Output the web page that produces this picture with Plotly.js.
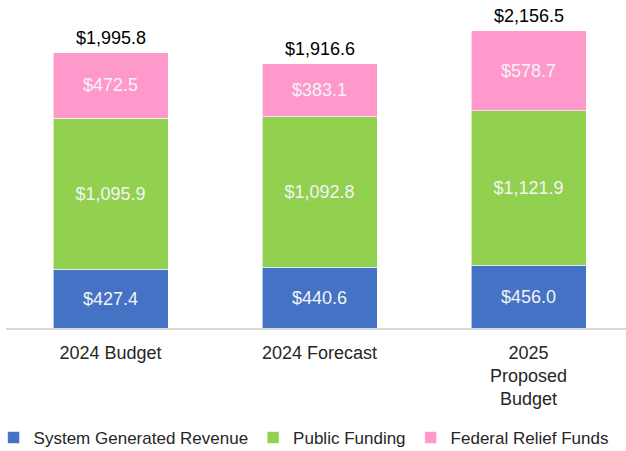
<!DOCTYPE html>
<html><head><meta charset="utf-8">
<script src="https://cdn.plot.ly/plotly-3.0.1.min.js"></script>
<style>html,body{margin:0;padding:0;background:#fff}</style>
</head><body><div id="chart" style="width:626px;height:451px"></div>
<script>
const categories = ["2024 Budget", "2024 Forecast", "2025 Proposed Budget"];
const tickLabels = ["2024 Budget", "2024 Forecast", "2025<br>Proposed<br>Budget"];
const systemRevenue = [427.4, 440.6, 456.0];
const publicFunding = [1095.9, 1092.8, 1121.9];
const federalRelief = [472.5, 383.1, 578.7];
const totals = [1995.8, 1916.6, 2156.5];

const fmt = v => "$" + v.toLocaleString("en-US", {minimumFractionDigits: 1, maximumFractionDigits: 1});
const FONT = "Liberation Sans, Arial, sans-serif";

function series(name, vals, color) {
  return {
    type: "bar", name: name, x: [0, 1, 2], y: vals,
    marker: {color: color, line: {color: "rgba(255,255,255,0.6)", width: 1}},
    text: vals.map(fmt), textposition: "inside", insidetextanchor: "middle",
    textfont: {family: FONT, size: 18, color: "#f4f4f4"},
    width: 0.55, hoverinfo: "skip", cliponaxis: false
  };
}

const data = [
  series("System Generated Revenue", systemRevenue, "#4472C4"),
  series("Public Funding", publicFunding, "#92D050"),
  series("Federal Relief Funds", federalRelief, "#FF99CC")
];

const annotations = totals.map((t, i) => ({
  x: i, y: systemRevenue[i] + publicFunding[i] + federalRelief[i],
  xref: "x", yref: "y", text: fmt(t), showarrow: false,
  yanchor: "bottom", yshift: 3,
  font: {family: FONT, size: 18, color: "#000"}
}));

const layout = {
  width: 626, height: 451,
  margin: {l: 6, r: 0, t: 11, b: 123, autoexpand: false},
  barmode: "stack",
  paper_bgcolor: "#fff", plot_bgcolor: "#fff",
  font: {family: FONT, size: 18, color: "#262626"},
  xaxis: {
    range: [-0.5, 2.466], tickmode: "array", tickvals: [0, 1, 2], ticktext: tickLabels,
    showgrid: false, zeroline: false, showline: true, linecolor: "#d9d9d9", linewidth: 2,
    ticks: "", automargin: false, ticklabelstandoff: 7,
    tickfont: {family: FONT, size: 18, color: "#262626"}
  },
  yaxis: {range: [0, 2300], visible: false, showgrid: false, zeroline: false, automargin: false},
  showlegend: true,
  legend: {
    orientation: "h", x: -0.02, xanchor: "left", y: -0.347, yanchor: "middle",
    font: {family: FONT, size: 17, color: "#262626"},
    itemwidth: 30, traceorder: "normal", tracegroupgap: 0
  },
  annotations: annotations
};

Plotly.newPlot("chart", data, layout, {displayModeBar: false, staticPlot: true});
</script></body></html>
